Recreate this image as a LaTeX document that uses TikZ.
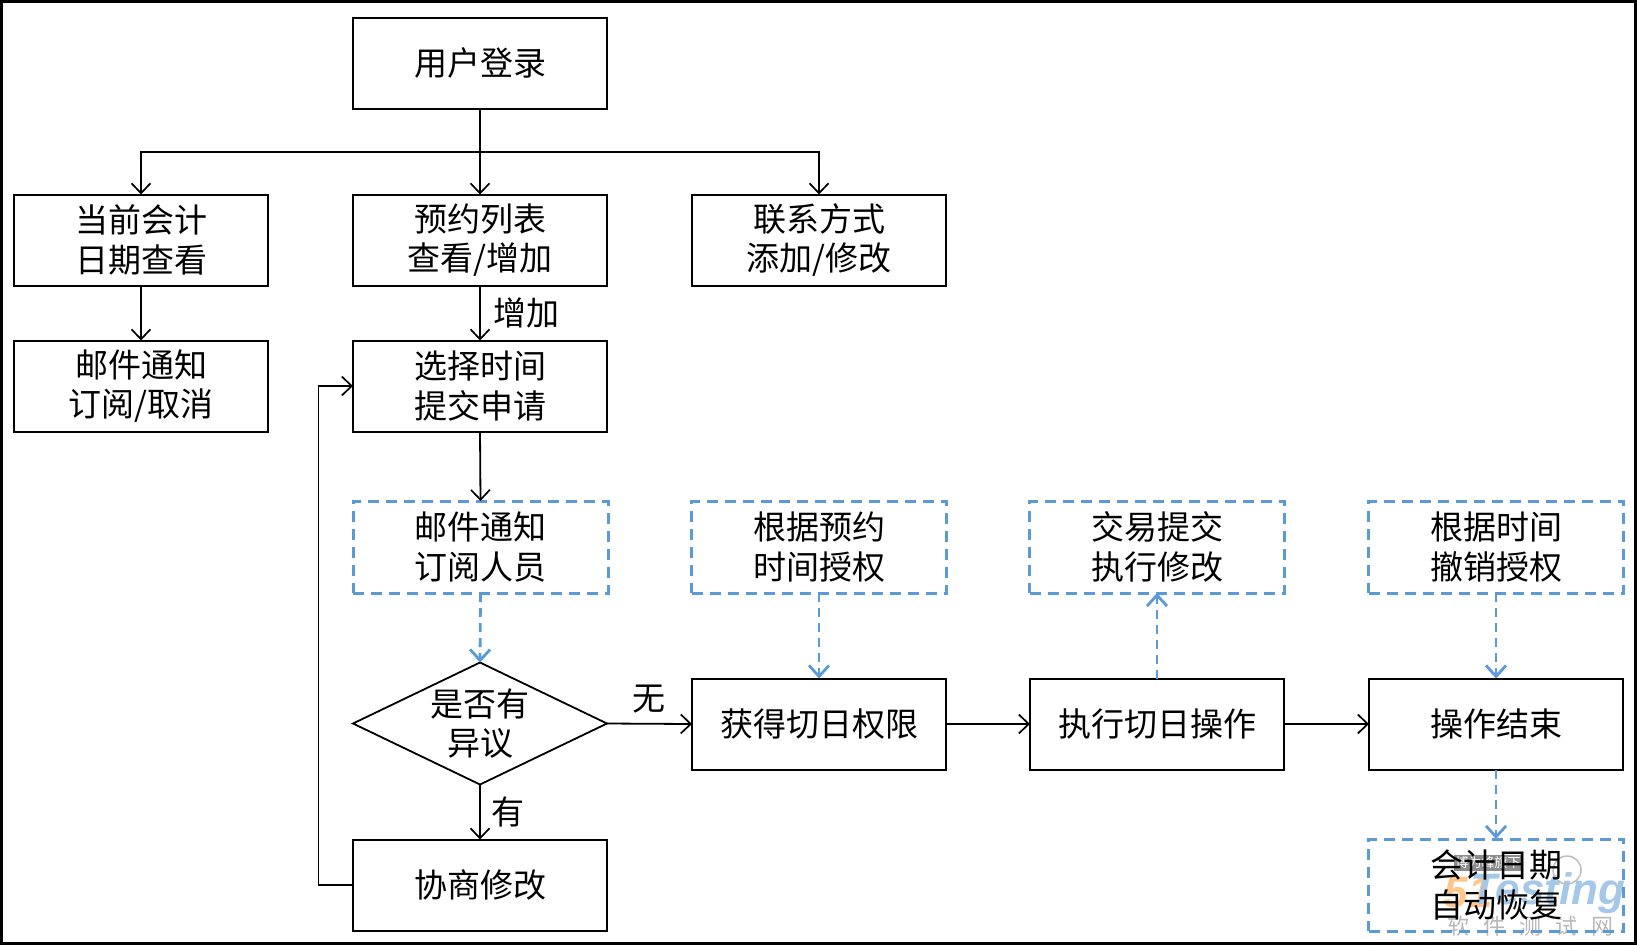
\documentclass[tikz,border=0pt]{standalone}
\usepackage{fontspec}
\setmainfont{Noto Sans CJK SC}
\newfontfamily\latinwm{Liberation Sans}
\usetikzlibrary{arrows.meta,shapes.geometric}
\definecolor{dashblue}{HTML}{5B9BD5}
\tikzset{
  x=1pt,y=-1pt,
  label text/.style={font=\fontsize{33}{39.5}\selectfont,align=center,text=black},
  solidbox/.style={draw=black,line width=2pt,rectangle,inner sep=0pt,outer sep=0pt,minimum width=254pt,minimum height=91pt,label text},
  dashbox/.style={draw=dashblue,line width=3pt,dash pattern=on 11pt off 7pt,rectangle,inner sep=0pt,outer sep=0pt,minimum width=255pt,minimum height=92pt,label text},
  decision/.style={draw=black,line width=1.8pt,diamond,aspect=2.08,inner sep=0pt,outer sep=0pt,minimum width=254pt,minimum height=122pt,label text},
  flowline/.style={draw=black,line width=1.8pt,-{Straight Barb[length=10pt,width=19pt,line width=1.7pt]}},
  dashline/.style={draw=dashblue,line width=2.8pt,dash pattern=on 9pt off 6pt,-{Straight Barb[length=11pt,width=20pt,line width=2.8pt]}},
  plainlabel/.style={inner sep=0pt,label text},
}
\begin{document}
\begin{tikzpicture}
\useasboundingbox (0,0) rectangle (1637,945);
\fill[white] (0,0) rectangle (1637,945);

% 51Testing mark sits under the last box
\node[inner sep=0pt,font=\latinwm\bfseries\itshape\fontsize{44}{44}\selectfont,text=orange!45] (wmA) at (1468,893) {51};
\node[inner sep=0pt,font=\latinwm\bfseries\itshape\fontsize{44}{44}\selectfont,text=dashblue!55] (wmB) at (1548,893) {Testing};
\node[inner sep=0pt,font=\fontsize{22}{22}\selectfont,text=black!28] (wmC) at (1530,926) {软\hspace{14pt}件\hspace{14pt}测\hspace{14pt}试\hspace{14pt}网};
\node[fill=black!45,text=white,inner sep=1.5pt,font=\fontsize{13}{13}\selectfont] (wmD) at (1488,863) {博为峰旗下};
\node[draw=black!25,line width=1.5pt,circle,minimum size=28pt,inner sep=0pt] (wmE) at (1567,870) {};

% boxes of the flow
\node[solidbox] (login) at (480,63) {用户登录};
\node[solidbox] (date) at (141,240) {当前会计\\日期查看};
\node[solidbox] (list) at (480,240) {预约列表\\查看/增加};
\node[solidbox] (contact) at (819,240) {联系方式\\添加/修改};
\node[solidbox] (mail) at (141,386) {邮件通知\\订阅/取消};
\node[solidbox] (select) at (480,386) {选择时间\\提交申请};
\node[dashbox] (notify) at (480.5,547) {邮件通知\\订阅人员};
\node[dashbox] (grant) at (819,547) {根据预约\\时间授权};
\node[dashbox] (trade) at (1157,547) {交易提交\\执行修改};
\node[dashbox] (revoke) at (1496,547) {根据时间\\撤销授权};
\node[decision] (check) at (480,723.5) {是否有\\异议};
\node[solidbox] (gain) at (819,724) {获得切日权限};
\node[solidbox] (run) at (1157,724) {执行切日操作};
\node[solidbox] (finish) at (1496,724) {操作结束};
\node[solidbox] (talk) at (480,885) {协商修改};
\node[dashbox] (restore) at (1496,885) {会计日期\\自动恢复};

% fork below the login box and the return path
\coordinate (fork) at (480,152);
\coordinate (bend) at (318.5,600);

\draw[line width=1.8pt] (login.south) -- (fork);
\draw[flowline] (fork) -| (date.north);
\draw[flowline] (fork) -- (list.north);
\draw[flowline] (fork) -| (contact.north);
\draw[flowline] (date.south) -- (mail.north);
\draw[flowline] (list.south) -- (select.north) node[midway,right=13pt,plainlabel] (addtxt) {增加};
\draw[flowline] (select.south) -- (notify.north);
\draw[dashline] (notify.south) -- (check.north);
\draw[dashline] (grant.south) -- (gain.north);
\draw[dashline] (run.north) -- (trade.south);
\draw[dashline] (revoke.south) -- (finish.north);
\draw[dashline] (finish.south) -- (restore.north);
\draw[flowline] (check.east) -- (gain.west);
\draw[flowline] (gain.east) -- (run.west);
\draw[flowline] (run.east) -- (finish.west);
\draw[flowline] (check.south) -- (talk.north);
\draw[flowline] (talk.west) -| (bend) |- (select.west);

\node[plainlabel] (nonetxt) at (649,699) {无};
\node[plainlabel] (yestxt) at (508,812) {有};

% outer frame
\draw[black,line width=3pt] (1.5,1.5) rectangle (1635.5,943.5);
\end{tikzpicture}
\end{document}
